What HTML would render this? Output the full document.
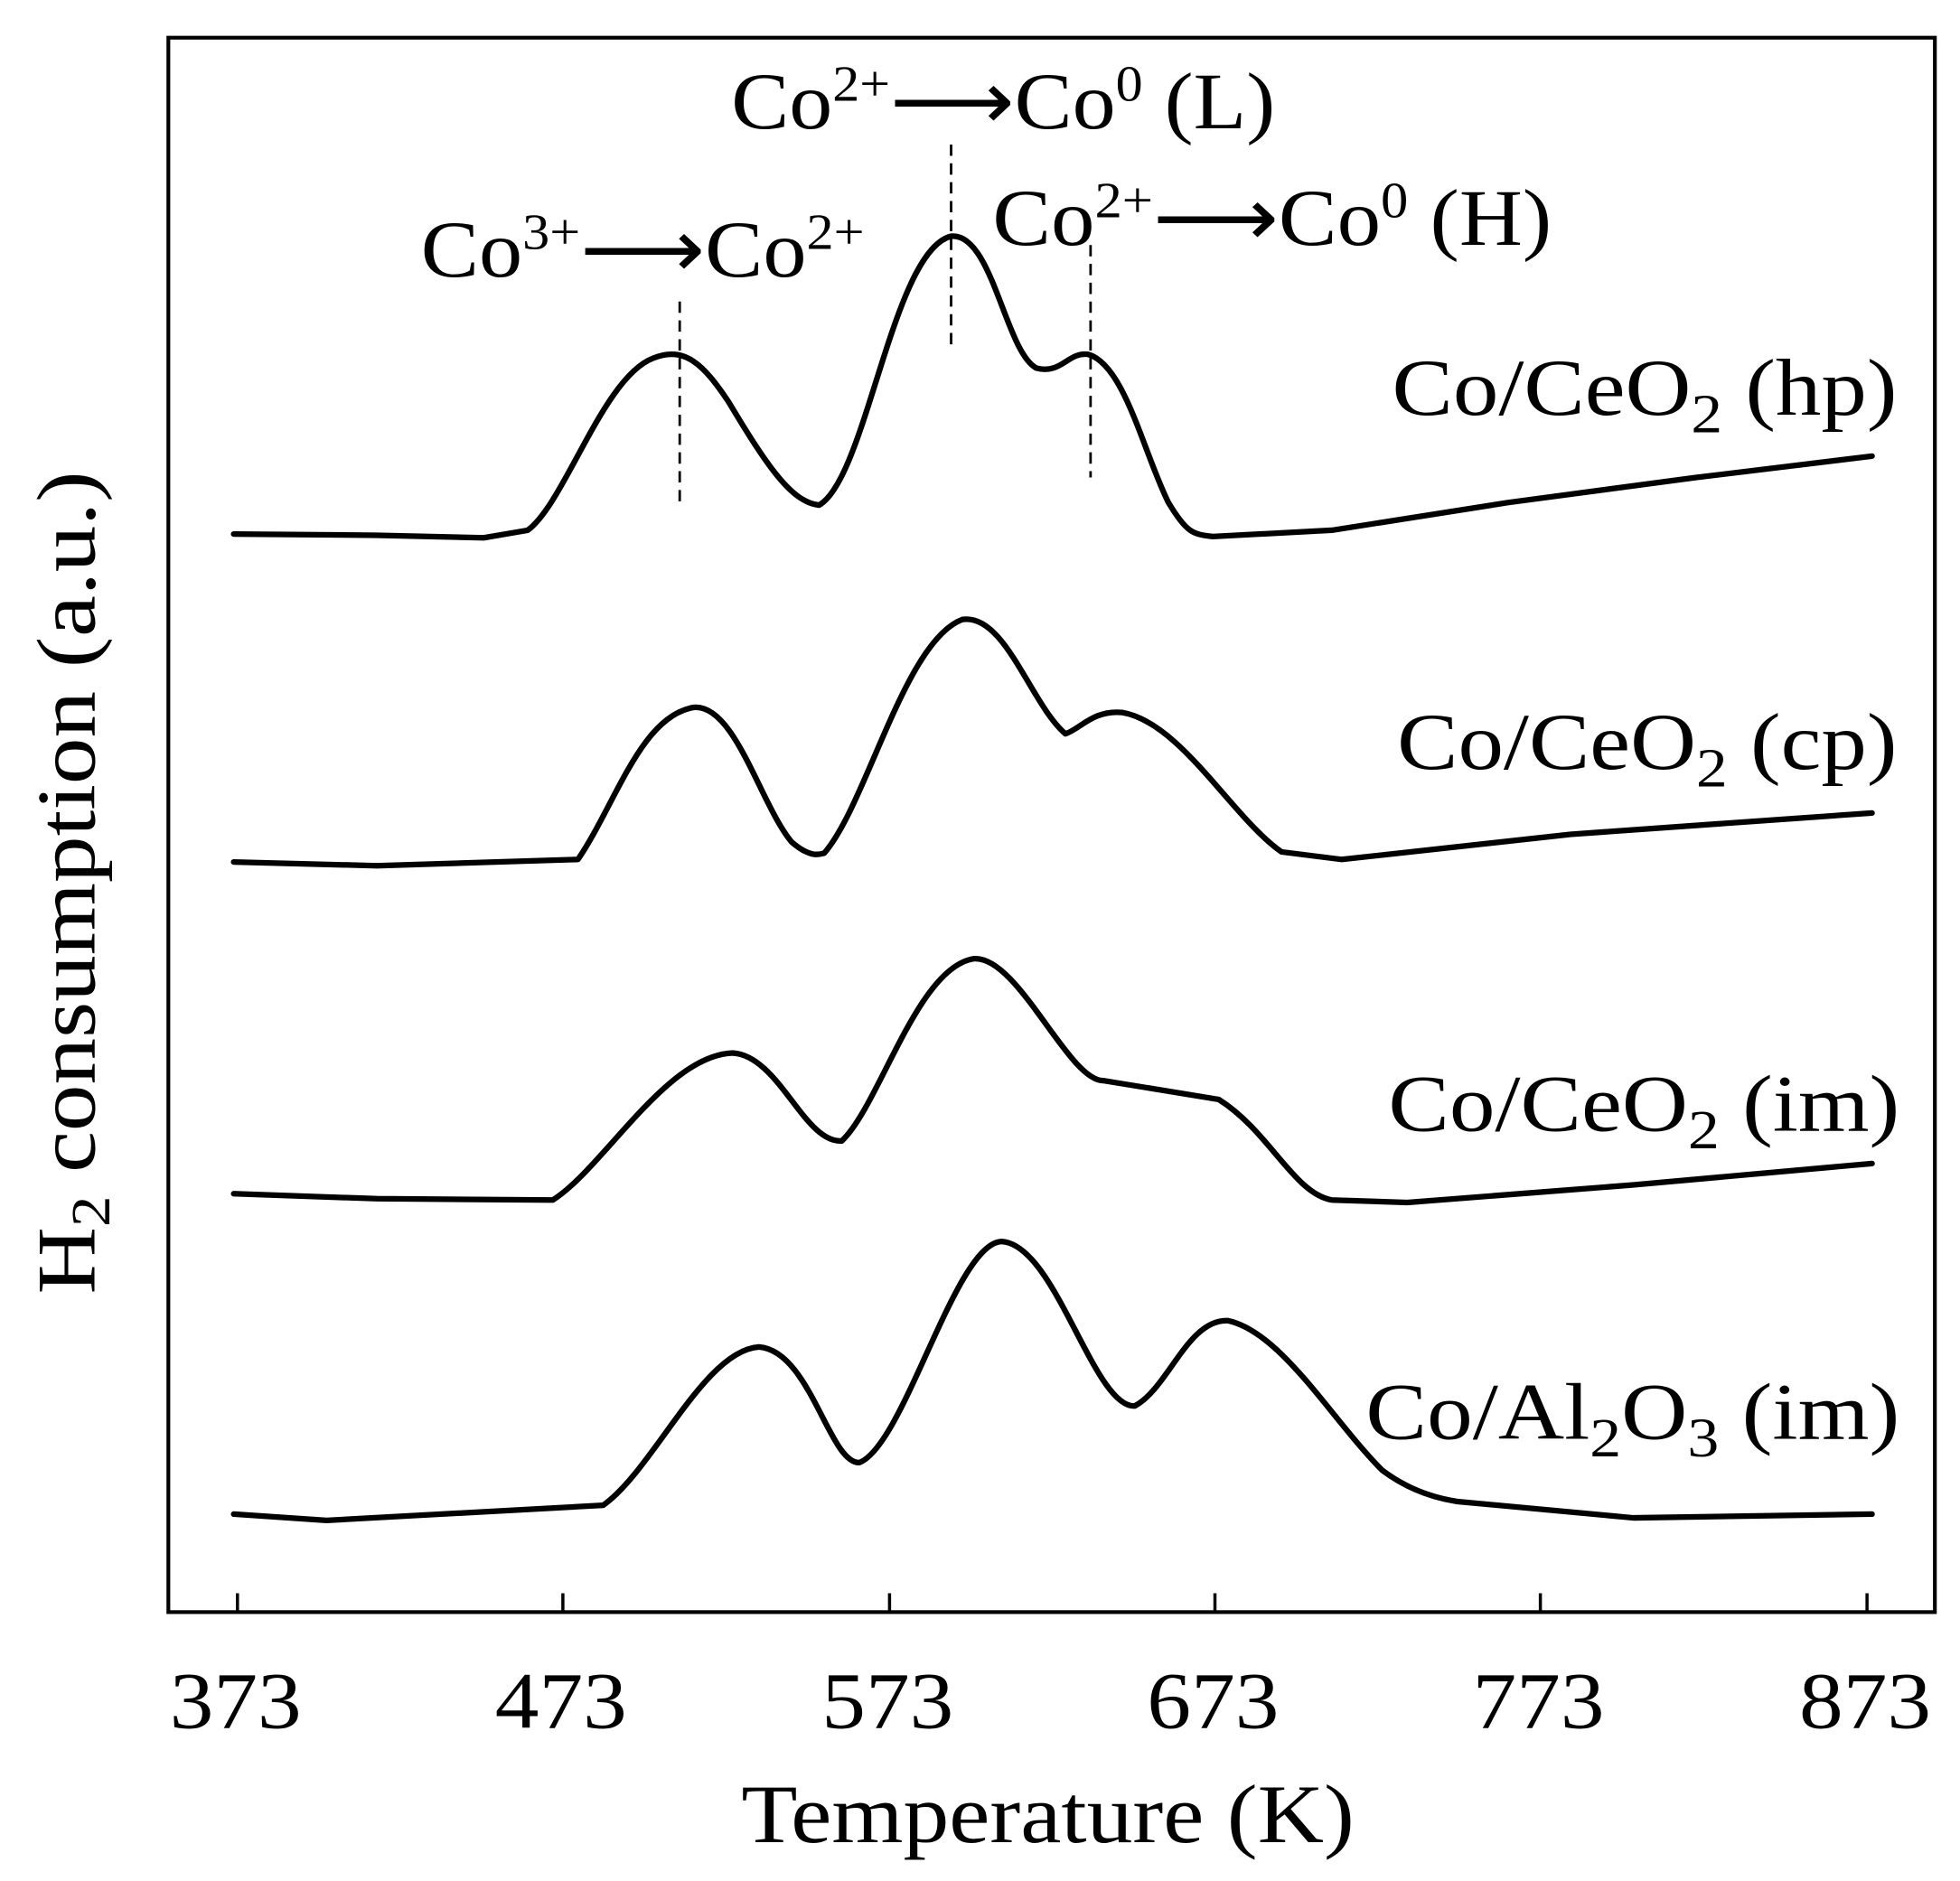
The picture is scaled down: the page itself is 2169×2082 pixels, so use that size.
<!DOCTYPE html>
<html><head><meta charset="utf-8"><style>
html,body{margin:0;padding:0;background:#fff;}
svg{display:block;}
text{font-family:"Liberation Serif",serif;fill:#000;}
</style></head><body>
<svg width="2169" height="2082" viewBox="0 0 1560 1497" preserveAspectRatio="none">
<rect x="134" y="30" width="1406" height="1253" fill="none" stroke="#000" stroke-width="3"/>
<g stroke="#000" stroke-width="2.5">
<line x1="189" y1="1283" x2="189" y2="1268"/><line x1="448" y1="1283" x2="448" y2="1268"/>
<line x1="708" y1="1283" x2="708" y2="1268"/><line x1="967" y1="1283" x2="967" y2="1268"/>
<line x1="1226" y1="1283" x2="1226" y2="1268"/><line x1="1486" y1="1283" x2="1486" y2="1268"/>
</g>
<g font-size="64">
<text x="135" y="1375" textLength="105" lengthAdjust="spacingAndGlyphs">373</text>
<text x="394" y="1375" textLength="105" lengthAdjust="spacingAndGlyphs">473</text>
<text x="654" y="1375" textLength="105" lengthAdjust="spacingAndGlyphs">573</text>
<text x="913" y="1375" textLength="105" lengthAdjust="spacingAndGlyphs">673</text>
<text x="1172" y="1375" textLength="105" lengthAdjust="spacingAndGlyphs">773</text>
<text x="1432" y="1375" textLength="105" lengthAdjust="spacingAndGlyphs">873</text>
</g>
<text x="590" y="1466" font-size="66" textLength="488" lengthAdjust="spacingAndGlyphs">Temperature  (K)</text>
<text transform="translate(75,1030) rotate(-90)" font-size="66" textLength="655" lengthAdjust="spacingAndGlyphs">H<tspan font-size="44" dy="12">2</tspan><tspan dy="-12"> consumption (a.u.)</tspan></text>
<g stroke="#000" stroke-width="2" stroke-dasharray="9,6">
<line x1="541" y1="240" x2="541" y2="405"/><line x1="757" y1="115" x2="757" y2="280"/><line x1="868" y1="195" x2="868" y2="380"/>
</g>
<g fill="none" stroke="#000" stroke-width="4.5" stroke-linejoin="round" stroke-linecap="round">
<path d="M186,425 L300,426 L385,428 L420,422 C450,400 480,300 520,285 C545,275 560,290 580,320 C610,370 630,400 652,402 C690,380 710,200 757,188 C790,185 800,280 825,293 C845,298 850,280 866,282 C895,290 910,360 930,400 C945,425 950,425 965,427 L1060,422 L1200,400 L1350,380 L1490,363"/>
<path d="M186,686 L300,689 L460,684 C490,640 510,570 552,563 C585,560 605,640 630,670 C645,683 652,680 656,679 C690,640 720,510 766,493 C800,488 820,560 848,584 C860,580 870,565 893,567 C940,575 980,650 1020,678 L1068,684 L1250,664 L1490,647"/>
<path d="M186,950 L300,954 L440,955 C480,930 530,840 583,838 C620,840 640,910 670,908 C700,880 730,770 775,763 C810,760 850,860 878,860 L970,875 C1010,900 1030,950 1060,955 L1120,957 L1300,943 L1490,926"/>
<path d="M186,1205 L260,1210 L480,1198 C520,1170 560,1075 604,1072 C645,1075 660,1165 684,1164 C720,1150 760,990 797,988 C840,990 870,1120 903,1119 C930,1105 945,1050 977,1051 C1020,1060 1060,1130 1100,1170 C1120,1185 1140,1192 1160,1195 L1300,1208 L1490,1205"/>
</g>
<g font-size="64">
<text x="1108" y="330" textLength="402" lengthAdjust="spacingAndGlyphs">Co/CeO<tspan font-size="44" dy="14">2</tspan><tspan dy="-14"> (hp)</tspan></text>
<text x="1112" y="612" textLength="398" lengthAdjust="spacingAndGlyphs">Co/CeO<tspan font-size="44" dy="14">2</tspan><tspan dy="-14"> (cp)</tspan></text>
<text x="1105" y="900" textLength="407" lengthAdjust="spacingAndGlyphs">Co/CeO<tspan font-size="44" dy="14">2</tspan><tspan dy="-14"> (im)</tspan></text>
<text x="1087" y="1145" textLength="425" lengthAdjust="spacingAndGlyphs">Co/Al<tspan font-size="44" dy="14">2</tspan><tspan dy="-14">O</tspan><tspan font-size="44" dy="14">3</tspan><tspan dy="-14"> (im)</tspan></text>
</g>
<g font-size="64">
<text x="335" y="220" textLength="353" lengthAdjust="spacingAndGlyphs">Co<tspan font-size="40" dy="-22">3+</tspan><tspan dy="22">⟶Co</tspan><tspan font-size="40" dy="-22">2+</tspan></text>
<text x="582" y="102" textLength="433" lengthAdjust="spacingAndGlyphs">Co<tspan font-size="40" dy="-22">2+</tspan><tspan dy="22">⟶Co</tspan><tspan font-size="40" dy="-22">0</tspan><tspan dy="22"> (L)</tspan></text>
<text x="790" y="195" textLength="445" lengthAdjust="spacingAndGlyphs">Co<tspan font-size="40" dy="-22">2+</tspan><tspan dy="22">⟶Co</tspan><tspan font-size="40" dy="-22">0</tspan><tspan dy="22"> (H)</tspan></text>
</g>
</svg>
</body></html>
